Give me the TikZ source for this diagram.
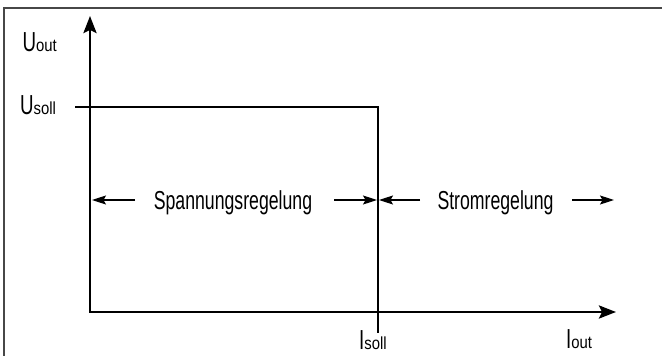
\documentclass[tikz,border=0pt]{standalone}
\usepackage{fontspec}
\setmainfont{Liberation Sans}[FakeStretch=0.68]
\newfontfamily\subfont{Liberation Sans}[FakeStretch=0.85]
\usetikzlibrary{arrows.meta}
\newcommand\mysub[1]{{\subfont\fontsize{17.5}{17.5}\selectfont #1}}
\begin{document}
\begin{tikzpicture}[x=1pt,y=-1pt,
  frameline/.style={line width=1.5pt, draw=black!72},
  axisline/.style={line width=2.7pt, line join=miter,
    {Stealth[length=17pt,width=13pt,inset=3pt]}-{Stealth[length=17pt,width=13pt,inset=3pt]}},
  thinline/.style={line width=1.2pt},
  rangearrow/.style={line width=1.2pt, -{Stealth[length=14pt,width=9pt,inset=2.5pt]}},
  axislabel/.style={inner sep=0pt, anchor=base west, font=\fontsize{27.5}{27.5}\selectfont},
  rangelabel/.style={inner sep=0pt, anchor=base, font=\fontsize{26}{26}\selectfont}]
\useasboundingbox (0,0) rectangle (662,356);
% frame
\coordinate (fbl) at (4,360);
\coordinate (ftl) at (4,8);
\coordinate (ftr) at (666,8);
\draw[frameline] (fbl) -- (ftl) -- (ftr);
% axes
\coordinate (O) at (90,312);
\coordinate (ytip) at (90,16);
\coordinate (xtip) at (616,312);
\draw[axisline] (ytip) -- (O) -- (xtip);
% characteristic
\coordinate (us) at (75,107);
\coordinate (corner) at (378,107);
\coordinate (isb) at (378,333);
\draw[thinline] (us) -- (corner) -- (isb);
% range arrows
\coordinate (a1s) at (135,200); \coordinate (a1e) at (92,200);
\coordinate (a2s) at (334,200); \coordinate (a2e) at (377,200);
\coordinate (a3s) at (420,200); \coordinate (a3e) at (379,200);
\coordinate (a4s) at (572,200); \coordinate (a4e) at (614,200);
\draw[rangearrow] (a1s) -- (a1e);
\draw[rangearrow] (a2s) -- (a2e);
\draw[rangearrow] (a3s) -- (a3e);
\draw[rangearrow] (a4s) -- (a4e);
\node[rangelabel] (spann) at (233,209) {Spannungsregelung};
\node[rangelabel] (strom) at (495.5,209) {Stromregelung};
% labels
\node[axislabel] (uout) at (22.5,51) {U\mysub{out}};
\node[axislabel] (usoll) at (20,114) {U\mysub{soll}};
\node[axislabel] (isoll) at (359,349) {I\mysub{soll}};
\node[axislabel] (iout) at (566,348) {I\mysub{out}};
\end{tikzpicture}
\end{document}
